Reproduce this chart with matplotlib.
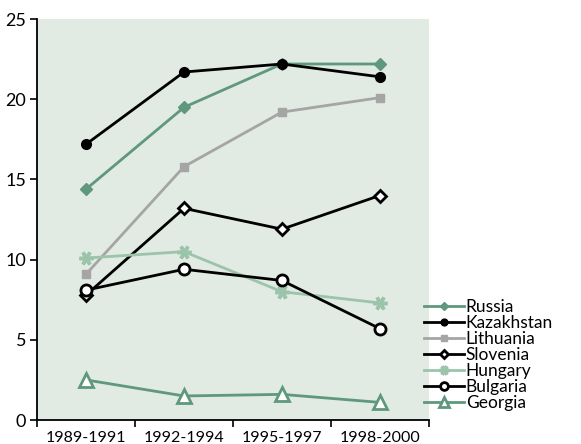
import numpy as np
import matplotlib.pyplot as plt

periods = ['1989-1991', '1992-1994', '1995-1997', '1998-2000']

russia = [14.4, 19.5, 22.2, 22.2]
kazakhstan = [17.2, 21.7, 22.2, 21.4]
lithuania = [9.1, 15.8, 19.2, 20.1]
slovenia = [7.8, 13.2, 11.9, 14.0]
hungary = [10.1, 10.5, 8.0, 7.3]
bulgaria = [8.1, 9.4, 8.7, 5.7]
georgia = [2.5, 1.5, 1.6, 1.1]

green = '#5f987d'
light_green = '#9cc4ab'
grey = '#a5a5a5'

plt.rcParams['font.family'] = ['Lato', 'DejaVu Sans']

fig = plt.figure(figsize=(5.81, 4.44), dpi=100)
ax = fig.add_axes([0.064, 0.054, 0.674, 0.903])
ax.set_facecolor('#e1eae3')

x = np.arange(len(periods))
lw = 2
ax.plot(x, russia, color=green, lw=lw, marker='D', ms=6, label='Russia')
ax.plot(x, kazakhstan, color='black', lw=lw, marker='o', ms=7, label='Kazakhstan')
ax.plot(x, lithuania, color=grey, lw=lw, marker='s', ms=6, label='Lithuania')
ax.plot(x, slovenia, color='black', lw=lw, marker='D', ms=6, mfc='white',
        mew=2, label='Slovenia')
ax.plot(x, hungary, color=light_green, lw=lw, marker=(6, 2, 90), ms=10,
        mew=2.5, label='Hungary')
ax.plot(x, bulgaria, color='black', lw=lw, marker='o', ms=8, mfc='white',
        mew=2, label='Bulgaria')
ax.plot(x, georgia, color=green, lw=lw, marker='^', ms=10, mfc='white',
        mew=2, label='Georgia')

ax.set_xlim(-0.5, 3.5)
ax.set_ylim(0, 25)
ax.set_yticks([0, 5, 10, 15, 20, 25])
ax.set_xticks(x)
ax.set_xticklabels(periods)
ax.tick_params(axis='x', which='major', length=0, labelsize=11.5, pad=8)
ax.set_xticks(np.arange(-0.5, 4, 1), minor=True)
ax.tick_params(axis='x', which='minor', length=5, width=1.2)
ax.tick_params(axis='y', length=5, width=1.2, labelsize=13, pad=3)
for s in ['top', 'right']:
    ax.spines[s].set_visible(False)
for s in ['left', 'bottom']:
    ax.spines[s].set_linewidth(1.3)

leg = ax.legend(loc='center left', bbox_to_anchor=(0.97, 0.162), frameon=False,
                fontsize=12.5, handlelength=2.3, handletextpad=0.1,
                labelspacing=0.0, borderaxespad=0, markerscale=0.7)

plt.savefig('out.png', dpi=100)
